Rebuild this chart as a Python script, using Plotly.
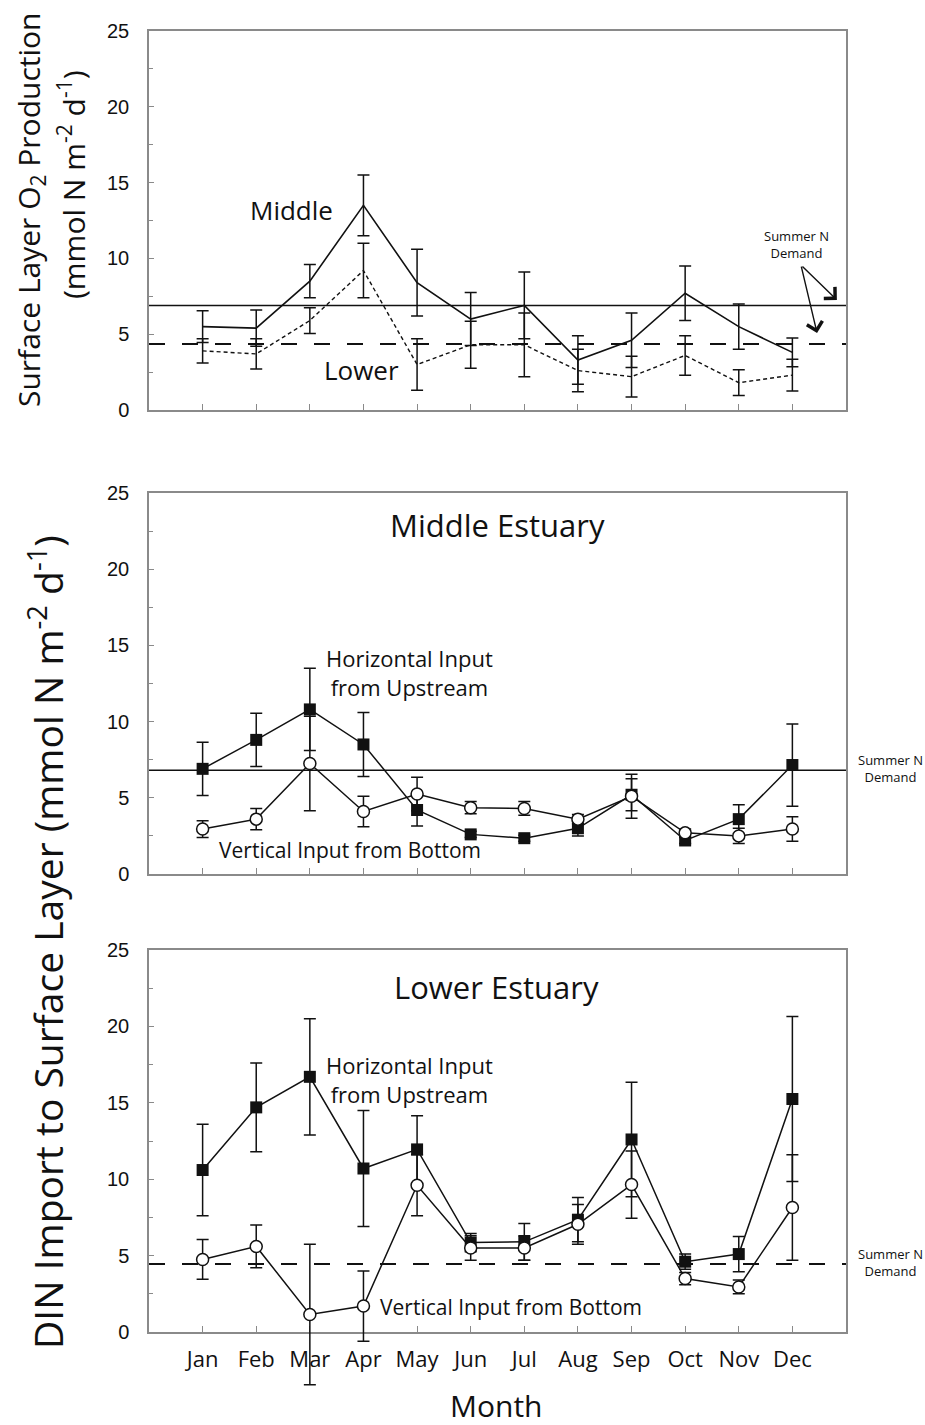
import plotly.graph_objects as go
from plotly.subplots import make_subplots

# ---- data -------------------------------------------------------------
months = ["Jan", "Feb", "Mar", "Apr", "May", "Jun",
          "Jul", "Aug", "Sep", "Oct", "Nov", "Dec"]
month_idx = list(range(1, 13))

# Surface layer O2 production (mmol N m-2 d-1)
prod_middle = [5.5, 5.4, 8.5, 13.5, 8.4, 6.0, 6.9, 3.3, 4.6, 7.7, 5.5, 3.8]
prod_middle_err = [1.05, 1.2, 1.1, 2.0, 2.2, 1.75, 2.2, 1.6, 1.8, 1.8, 1.5, 0.95]
prod_lower = [3.9, 3.7, 5.9, 9.2, 3.0, 4.3, 4.3, 2.6, 2.2, 3.6, 1.8, 2.3]
prod_lower_err = [0.8, 1.0, 0.85, 1.8, 1.7, 1.55, 2.1, 1.4, 1.35, 1.3, 0.85, 1.05]

# DIN import, middle estuary
mid_horiz = [6.9, 8.8, 10.8, 8.5, 4.2, 2.6, 2.35, 3.0, 5.2, 2.2, 3.6, 7.15]
mid_horiz_err = [1.75, 1.75, 2.7, 2.1, 1.05, 0.2, 0.2, 0.5, 1.05, 0.2, 0.95, 2.7]
mid_vert = [2.95, 3.6, 7.25, 4.1, 5.25, 4.35, 4.3, 3.6, 5.1, 2.7, 2.5, 2.95]
mid_vert_err = [0.55, 0.7, 3.1, 1.0, 1.1, 0.4, 0.45, 0.3, 1.45, 0.25, 0.5, 0.8]

# DIN import, lower estuary
low_horiz = [10.6, 14.7, 16.7, 10.7, 11.95, 5.85, 5.9, 7.35, 12.6, 4.6, 5.1, 15.25]
low_horiz_err = [3.0, 2.9, 3.8, 3.8, 2.2, 0.6, 1.2, 1.45, 3.75, 0.5, 1.15, 5.4]
low_vert = [4.75, 5.6, 1.15, 1.7, 9.6, 5.5, 5.5, 7.05, 9.65, 3.5, 2.95, 8.15]
low_vert_err = [1.3, 1.4, 4.6, 2.3, 2.0, 0.8, 0.8, 1.3, 2.2, 0.4, 0.45, 3.45]

# summer N demand reference levels
demand_middle_top = 6.9
demand_lower_top = 4.35
demand_middle = 6.8
demand_lower = 4.45

y_ticks = [0, 5, 10, 15, 20, 25]

# ---- styling ----------------------------------------------------------
W, H = 925, 1425
TXT = "Open Sans, Noto Sans, sans-serif"
NUM = "Liberation Sans, Arial, sans-serif"
FRAME = "#8a8a8a"
INK = "#111111"
LONG_DASH = "16px,17px"

fig = make_subplots(rows=3, cols=1)

x0, x1 = 149 / W, 846 / W
panels = [(31, 410), (493, 874), (950, 1332)]

# the lower panel's series live on a hidden companion subplot whose plot
# area reaches below the frame, so long error bars are not cut at zero
low_top, low_bot = panels[2]
px_per_unit = (low_bot - low_top) / 25.0
ext_bot = 1400
ext_floor = -(ext_bot - low_bot) / px_per_unit


def err(vals):
    return dict(type="data", array=vals, visible=True, color=INK,
                thickness=1.5, width=6)


# top panel: production
fig.add_trace(go.Scatter(x=month_idx, y=prod_middle, mode="lines",
                         line=dict(color=INK, width=1.6),
                         error_y=err(prod_middle_err), cliponaxis=False,
                         showlegend=False), row=1, col=1)
fig.add_trace(go.Scatter(x=month_idx, y=prod_lower, mode="lines",
                         line=dict(color=INK, width=1.4, dash="4px,3px"),
                         error_y=err(prod_lower_err), cliponaxis=False,
                         showlegend=False), row=1, col=1)


def estuary(h, he, v, ve, xa, ya):
    fig.add_trace(go.Scatter(x=month_idx, y=h, mode="lines+markers",
                             line=dict(color=INK, width=1.5),
                             marker=dict(symbol="square", size=12, color=INK),
                             error_y=err(he), cliponaxis=False,
                             xaxis=xa, yaxis=ya, showlegend=False))
    fig.add_trace(go.Scatter(x=month_idx, y=v, mode="lines+markers",
                             line=dict(color=INK, width=1.5),
                             marker=dict(symbol="circle", size=12, color="white",
                                         line=dict(color=INK, width=1.5)),
                             error_y=err(ve), cliponaxis=False,
                             xaxis=xa, yaxis=ya, showlegend=False))


estuary(mid_horiz, mid_horiz_err, mid_vert, mid_vert_err, "x2", "y2")
estuary(low_horiz, low_horiz_err, low_vert, low_vert_err, "x4", "y4")


# summer demand lines
def hline(row, val, dash, width):
    xr = "x" if row == 1 else f"x{row}"
    yr = "y" if row == 1 else f"y{row}"
    fig.add_shape(type="line", xref=f"{xr} domain", x0=0, x1=1, yref=yr,
                  y0=val, y1=val, line=dict(color=INK, width=width, dash=dash),
                  layer="below")


hline(1, demand_middle_top, "solid", 1.5)
hline(1, demand_lower_top, LONG_DASH, 2)
hline(2, demand_middle, "solid", 1.5)
hline(3, demand_lower, LONG_DASH, 2)

# ---- axes ---------------------------------------------------------------
for i, (top, bot) in enumerate(panels, start=1):
    fig.update_xaxes(domain=[x0, x1], range=[0, 13], tickvals=month_idx,
                     ticktext=months, ticks="inside", ticklen=6, tickwidth=1,
                     tickcolor=FRAME, showline=True, linecolor=FRAME, linewidth=1.5,
                     mirror=True, showgrid=False, zeroline=False, automargin=False,
                     showticklabels=(i == 3), ticklabelstandoff=7,
                     tickfont=dict(family=TXT, size=22, color=INK),
                     row=i, col=1)
    fig.update_yaxes(domain=[1 - bot / H, 1 - top / H], range=[0, 25],
                     tickvals=y_ticks, ticks="inside", ticklen=5, tickwidth=1,
                     tickcolor=FRAME, minor=dict(dtick=2.5, tick0=0, ticks="inside",
                                                 ticklen=4, tickcolor=FRAME),
                     showline=True, linecolor=FRAME, linewidth=1.5, mirror=True,
                     showgrid=False, zeroline=False, automargin=False,
                     ticklabelstandoff=14,
                     tickfont=dict(family=NUM, size=20, color=INK),
                     row=i, col=1)

fig.update_layout(
    xaxis4=dict(domain=[x0, x1], range=[0, 13], visible=False, anchor="y4",
                fixedrange=True),
    yaxis4=dict(domain=[1 - ext_bot / H, 1 - low_top / H], range=[ext_floor, 25],
                visible=False, anchor="x4", fixedrange=True),
)

# ---- text ------------------------------------------------------------
ann = []


def note(text, x, y, size, xref="x", yref="y", family=TXT, **kw):
    ann.append(dict(text=text, x=x, y=y, xref=xref, yref=yref, showarrow=False,
                    xanchor="center", yanchor="middle",
                    font=dict(family=family, size=size, color=INK), **kw))


note("Middle", 2.66, 13.2, 26)
note("Lower", 3.97, 2.64, 26)
note("Summer N<br>Demand", 12.07, 10.9, 13, align="center")

note("Middle Estuary", 6.5, 22.9, 31, xref="x2", yref="y2")
note("Horizontal Input<br>from Upstream", 4.86, 13.25, 22, xref="x2", yref="y2")
note("Vertical Input from Bottom", 3.74, 1.57, 21, xref="x2", yref="y2")
note("Summer N<br>Demand", 890 / W, 1 - 769 / H, 13, xref="paper", yref="paper")

note("Lower Estuary", 6.48, 22.6, 31, xref="x3", yref="y3")
note("Horizontal Input<br>from Upstream", 4.86, 16.5, 22, xref="x3", yref="y3")
note("Vertical Input from Bottom", 6.76, 1.64, 21, xref="x3", yref="y3")
note("Summer N<br>Demand", 890 / W, 1 - 1262 / H, 13, xref="paper", yref="paper")

note("Month", 497 / W, 1 - 1405 / H, 30, xref="paper", yref="paper")
note("Surface Layer O<sub>2</sub> Production", 30 / W, 1 - 210 / H, 30,
     xref="paper", yref="paper", textangle=-90)
note("(mmol N m<sup>-2</sup> d<sup>-1</sup>)", 72 / W, 1 - 185 / H, 30,
     xref="paper", yref="paper", textangle=-90)
note("DIN Import to Surface Layer (mmol N m<sup>-2</sup> d<sup>-1</sup>)",
     46 / W, 1 - 942 / H, 39, xref="paper", yref="paper", textangle=-90)

# arrows pointing at the two demand lines
for hx, hy in ((12.83, 7.26), (12.46, 5.08)):
    ann.append(dict(x=hx, y=hy, ax=12.16, ay=9.56, xref="x", yref="y",
                    axref="x", ayref="y", text="", showarrow=True,
                    arrowhead=4, arrowsize=2.2, arrowwidth=1.4, arrowcolor=INK))

fig.update_layout(width=W, height=H, margin=dict(l=0, r=0, t=0, b=0),
                  paper_bgcolor="white", plot_bgcolor="rgba(0,0,0,0)",
                  annotations=ann, showlegend=False)

fig.write_html("out.html")
